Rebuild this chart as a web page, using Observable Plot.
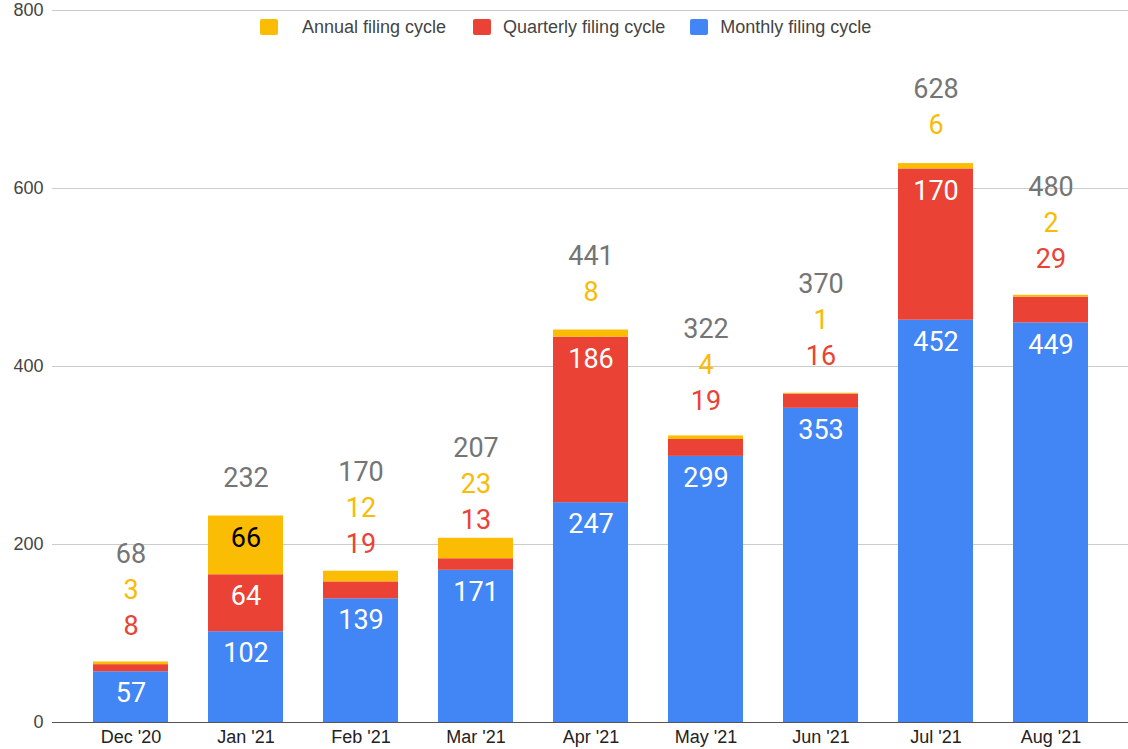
<!DOCTYPE html>
<html>
<head>
<meta charset="utf-8">
<script src="https://cdn.jsdelivr.net/npm/d3@7"></script>
<script src="https://cdn.jsdelivr.net/npm/@observablehq/plot@0.6"></script>
<style>
  html, body { margin: 0; padding: 0; background: #fff; }
  #wrap { position: relative; width: 1128px; height: 749px; }
  #legend { position: absolute; left: 260px; top: 16px; height: 22px; display: flex; align-items: center;
            font-family: "Liberation Sans", Arial, sans-serif; font-size: 18px; color: #444; white-space: nowrap; }
  #legend .sw { width: 18px; height: 16px; border-radius: 2px; display: inline-block; }
</style>
</head>
<body>
<div id="wrap">
  <div id="chart"></div>
  <div id="legend"></div>
</div>
<script>
const months = ["Dec '20", "Jan '21", "Feb '21", "Mar '21", "Apr '21", "May '21", "Jun '21", "Jul '21", "Aug '21"];
const monthly   = [57, 102, 139, 171, 247, 299, 353, 452, 449];
const quarterly = [8, 64, 19, 13, 186, 19, 16, 170, 29];
const annual    = [3, 66, 12, 23, 8, 4, 1, 6, 2];
const totals    = [68, 232, 170, 207, 441, 322, 370, 628, 480];
const seriesNames = ["Monthly filing cycle", "Quarterly filing cycle", "Annual filing cycle"];
const seriesColors = ["#4285F4", "#EA4335", "#FBBC04"];
const insideText = ["#ffffff", "#ffffff", "#000000"];
const outsideText = ["#ffffff", "#EA4335", "#F9BB06"];
const totalColor = "#757575";
const yTicks = [0, 200, 400, 600, 800];

const W = 1128, H = 749, mT = 10, mB = 27, mL = 52, mR = 0;
const yRange = [H - mB, mT];
const yScale = Plot.scale({y: {domain: [0, 800], range: yRange}});

const segs = [];
const insideLabels = [];
const outsideLabels = [];
months.forEach((m, i) => {
  const vals = [monthly[i], quarterly[i], annual[i]];
  let base = 0;
  let prevPx = Infinity;
  vals.forEach((v, s) => {
    const top = base + v;
    segs.push({month: m, series: seriesNames[s], y1: base, y2: top});
    if (v >= 40) {
      insideLabels.push({month: m, y: top, text: String(v), color: insideText[s]});
    } else {
      let px = Math.min(yScale.apply(top) - 38, prevPx - 36);
      prevPx = px;
      outsideLabels.push({month: m, y: yScale.invert(px), text: String(v), color: outsideText[s]});
    }
    base = top;
  });
  let px = Math.min(yScale.apply(totals[i]) - 38, prevPx - 36);
  outsideLabels.push({month: m, y: yScale.invert(px), text: String(totals[i]), color: totalColor});
});

const chart = Plot.plot({
  width: W, height: H,
  marginTop: mT, marginBottom: mB, marginLeft: mL, marginRight: mR,
  style: {fontFamily: "'Liberation Sans', Arial, sans-serif", background: "#fff"},
  x: {domain: months, padding: 0.35, label: null},
  y: {domain: [0, 800], range: yRange, label: null},
  color: {domain: seriesNames, range: seriesColors},
  marks: [
    Plot.ruleY(yTicks.filter(d => d > 0), {stroke: "#cccccc", strokeWidth: 1}),
    Plot.barY(segs, {x: "month", y1: "y1", y2: "y2", fill: "series"}),
    Plot.ruleY([0], {stroke: "#555", strokeWidth: 1}),
    Plot.text(insideLabels, {x: "month", y: "y", text: "text", fill: "color", dy: 22, lineAnchor: "middle",
      fontSize: 27, fontFamily: "Roboto, sans-serif"}),
    Plot.text(outsideLabels, {x: "month", y: "y", text: "text", fill: "color", lineAnchor: "middle",
      fontSize: 27, fontFamily: "Roboto, sans-serif"}),
    Plot.axisX({tickSize: 0, tickPadding: 8, fontSize: 18, fill: "#222", label: null}),
    Plot.axisY({ticks: yTicks, tickSize: 0, tickPadding: 9, fontSize: 18, fill: "#444", label: null})
  ]
});
document.getElementById("chart").appendChild(chart);

const legend = document.getElementById("legend");
const order = [2, 1, 0];
order.forEach((s, k) => {
  const sw = document.createElement("span");
  sw.className = "sw";
  sw.style.background = seriesColors[s];
  sw.style.marginRight = (k === 0 ? "24px" : "12px");
  const lab = document.createElement("span");
  lab.textContent = seriesNames[s];
  lab.style.marginRight = (k === 0 ? "27px" : "25px");
  legend.appendChild(sw);
  legend.appendChild(lab);
});
</script>
</body>
</html>
